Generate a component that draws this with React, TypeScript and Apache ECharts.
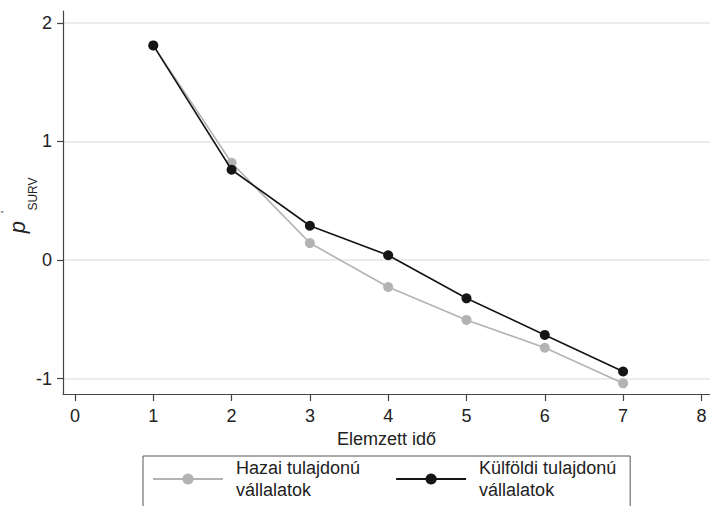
import React, { useEffect, useRef } from "react";
import * as echarts from "echarts";

const times = [1, 2, 3, 4, 5, 6, 7];
const hazai = [1.81, 0.82, 0.143, -0.228, -0.505, -0.74, -1.04];
const kulfoldi = [1.81, 0.761, 0.289, 0.04, -0.323, -0.632, -0.94];
const xTicks = [0, 1, 2, 3, 4, 5, 6, 7, 8];
const yTicks = [-1, 0, 1, 2];
const seriesNames = ["Hazai tulajdonú\nvállalatok", "Külföldi tulajdonú\nvállalatok"];
const xName = "Elemzett idő";

export default function App() {
  const ref = useRef<HTMLDivElement>(null);
  useEffect(() => {
    if (!ref.current) return;
    const chart = echarts.init(ref.current, undefined, { renderer: "svg" });
    const font = "Liberation Sans, Arial, sans-serif";
    chart.setOption({
      animation: false,
      backgroundColor: "#ffffff",
      textStyle: { fontFamily: font },
      grid: { left: 63, right: 0, top: 11, bottom: 112, containLabel: false },
      xAxis: {
        type: "value",
        min: -0.153,
        max: 8.11,
        name: xName,
        nameLocation: "middle",
        nameGap: 33,
        nameTextStyle: { fontSize: 18, color: "#222", fontFamily: font },
        axisLine: { show: true, onZero: false, lineStyle: { color: "#444", width: 1.2 } },
        axisTick: { show: true, length: 7, customValues: xTicks, lineStyle: { color: "#444", width: 1.2 } },
        axisLabel: { customValues: xTicks, fontSize: 18, color: "#222", margin: 13, fontFamily: font },
        splitLine: { show: false },
      },
      yAxis: {
        type: "value",
        min: -1.13,
        max: 2.1,
        axisLine: { show: true, onZero: false, lineStyle: { color: "#444", width: 1.2 } },
        axisTick: { show: true, length: 6, customValues: yTicks, lineStyle: { color: "#444", width: 1.2 } },
        axisLabel: { customValues: yTicks, fontSize: 18, color: "#222", margin: 11, fontFamily: font },
        splitLine: { show: true, lineStyle: { color: "#e6e6e6", width: 1.5 } },
      },
      legend: {
        left: 143,
        top: 456,
        orient: "horizontal",
        itemWidth: 70,
        itemHeight: 14,
        itemGap: 35,
        padding: [1, 14, 20, 9],
        borderColor: "#555",
        borderWidth: 1,
        data: seriesNames,
        textStyle: { fontSize: 18, lineHeight: 22, color: "#222", fontFamily: font, padding: [0, 0, 0, 8] },
      },
      graphic: [
        { type: "text", x: 17, y: 227, rotation: Math.PI / 2, style: { text: "p", fontSize: 22, fontStyle: "italic", fill: "#222", align: "center", verticalAlign: "middle", fontFamily: font } },
        { type: "text", x: 5, y: 212, rotation: Math.PI / 2, style: { text: "'", fontSize: 11, fill: "#222", align: "center", verticalAlign: "middle", fontFamily: font } },
        { type: "text", x: 33, y: 194, rotation: Math.PI / 2, style: { text: "SURV", fontSize: 12, fill: "#222", align: "center", verticalAlign: "middle", fontFamily: font } },
      ],
      series: [
        {
          name: seriesNames[0],
          type: "line",
          data: times.map((t, i) => [t, hazai[i]]),
          symbol: "circle",
          symbolSize: 10,
          itemStyle: { color: "#b3b3b3" },
          lineStyle: { color: "#b3b3b3", width: 1.6 },
          z: 2,
        },
        {
          name: seriesNames[1],
          type: "line",
          data: times.map((t, i) => [t, kulfoldi[i]]),
          symbol: "circle",
          symbolSize: 10,
          itemStyle: { color: "#151515" },
          lineStyle: { color: "#151515", width: 1.6 },
          z: 3,
        },
      ],
    });
    return () => chart.dispose();
  }, []);
  return <div ref={ref} style={{ width: 710, height: 506, position: "absolute", left: 0, top: 0 }} />;
}
